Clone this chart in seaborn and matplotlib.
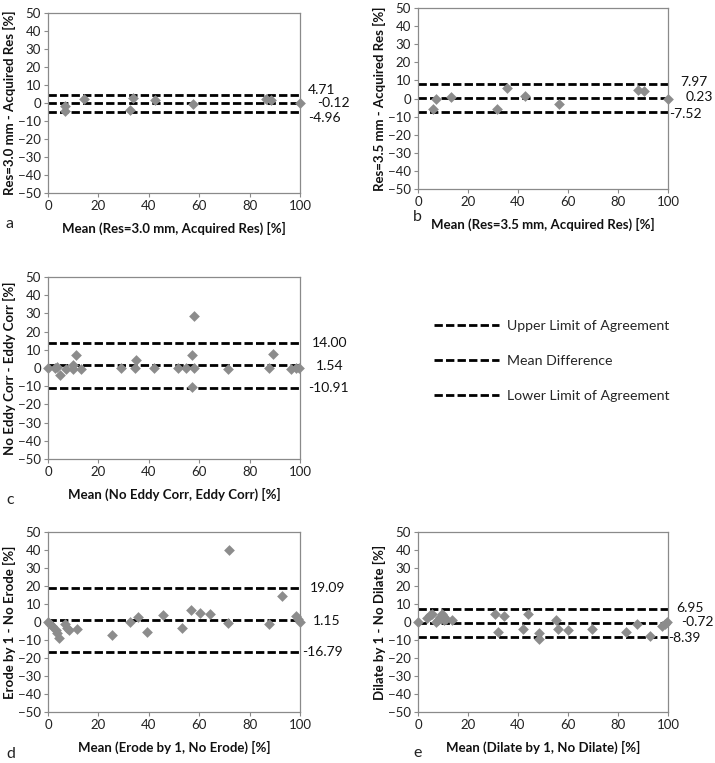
import matplotlib
matplotlib.use("Agg")
import matplotlib.pyplot as plt
import seaborn as sns
import pandas as pd

# ---------------- data ----------------
a_mean = [6.6, 6.6, 14.3, 32.5, 33.8, 42.4, 57.6, 86.4, 88.5, 100.0]
a_diff = [-1.5, -4.6, 2.4, -3.7, 2.6, 1.5, -0.4, 2.0, 1.8, 0.0]
a_limits = [4.71, -0.12, -4.96]

b_mean = [6.0, 7.3, 13.3, 31.5, 35.5, 42.8, 56.5, 87.8, 90.2, 100.0]
b_diff = [-5.6, -0.5, 0.7, -5.6, 5.6, 1.5, -3.3, 4.6, 4.1, 0.0]
b_limits = [7.97, 0.23, -7.52]

c_mean = [0.0, 2.8, 3.5, 4.9, 7.3, 10.0, 10.0, 11.0, 12.9, 29.1, 34.4, 35.1, 42.1,
          51.7, 54.6, 57.0, 57.0, 58.0, 58.0, 71.3, 87.8, 89.4, 96.5, 98.4, 99.5]
c_diff = [0.0, 0.0, 0.5, -4.0, -0.4, -0.4, 1.8, 7.3, -0.7, 0.0, 0.0, 4.6, 0.0,
          0.0, 0.0, 7.3, -10.4, 0.0, 28.8, -0.5, 0.0, 7.9, -0.3, 0.0, 0.0]
c_limits = [14.00, 1.54, -10.91]

d_mean = [0.0, 0.7, 1.7, 3.0, 3.6, 4.4, 6.7, 7.6, 8.4, 11.4, 25.3, 32.5, 35.6,
          39.2, 45.8, 53.1, 56.7, 60.4, 64.4, 71.5, 71.7, 87.5, 92.7, 98.4, 99.1, 100.0]
d_diff = [0.0, -1.3, -2.4, -4.6, -6.3, -9.0, -1.3, -3.1, -4.6, -3.7, -7.1, -0.2, 2.8,
          -5.4, 4.1, -3.1, 6.9, 5.0, 4.3, -0.3, 40.1, -1.3, 14.4, 3.2, 1.9, 0.0]
d_limits = [19.09, 1.15, -16.79]

e_mean = [0.0, 3.5, 4.7, 5.6, 7.3, 7.8, 8.6, 9.6, 10.0, 10.2, 11.3, 13.6, 30.9,
          31.8, 34.2, 41.9, 44.1, 48.5, 48.5, 55.2, 56.1, 60.1, 69.6, 83.1, 87.4,
          92.9, 97.7, 98.7, 99.6]
e_diff = [0.0, 2.4, 3.7, 4.3, 0.0, 1.3, 2.8, 4.7, 3.2, 1.3, 1.9, 0.9, 4.3,
          -5.6, 3.2, -4.1, 4.3, -6.3, -9.7, 1.3, -3.7, -4.3, -3.7, -5.6, -1.3,
          -7.5, -2.2, -1.3, -0.2]
e_limits = [6.95, -0.72, -8.39]

x_labels = ["Mean (Res=3.0 mm, Acquired Res) [%]",
            "Mean (Res=3.5 mm, Acquired Res) [%]",
            "Mean (No Eddy Corr, Eddy Corr) [%]",
            "Mean (Erode by 1, No Erode) [%]",
            "Mean (Dilate by 1, No Dilate) [%]"]
y_labels = ["Res=3.0 mm - Acquired Res [%]",
            "Res=3.5 mm - Acquired Res [%]",
            "No Eddy Corr - Eddy Corr [%]",
            "Erode by 1 - No Erode [%]",
            "Dilate by 1 - No Dilate [%]"]
panel_letters = ["a", "b", "c", "d", "e"]
legend_labels = ["Upper Limit of Agreement", "Mean Difference", "Lower Limit of Agreement"]
x_ticks = [0, 20, 40, 60, 80, 100]
y_ticks = [-50, -40, -30, -20, -10, 0, 10, 20, 30, 40, 50]

# ---------------- style ----------------
sns.set_theme(style="white")
plt.rcParams["font.family"] = ["Lato", "DejaVu Sans"]

W, H = 715, 763
fig = plt.figure(figsize=(W / 100, H / 100), dpi=100)

# axes boxes in pixels: left, top, right, bottom
boxes = [(48, 13, 300, 193), (418, 8, 668, 189), (48, 277, 300, 459),
         (48, 532, 300, 712), (418, 532, 668, 712)]
letter_pos = [(6, 224), (413, 217), (6, 500), (6, 754), (413, 753)]
# label x positions (data) and y offsets (data) for upper / mean / lower
label_x = [(103.2, 106.7, 103.2), (104.8, 107.0, 100.4), (104.6, 106.3, 103.2),
           (104.0, 105.0, 100.7), (103.2, 105.2, 100.0)]
label_dy = [(2.4, 0.0, -3.6), (1.0, 0.5, -0.9), (-0.5, -0.5, -0.3),
            (-0.4, -0.5, 0.0), (1.0, 0.9, -0.7)]

datasets = [(a_mean, a_diff, a_limits), (b_mean, b_diff, b_limits),
            (c_mean, c_diff, c_limits), (d_mean, d_diff, d_limits),
            (e_mean, e_diff, e_limits)]

frame_col = "#8a8a8a"
point_col = "#8c8c8c"
dash = (0, (3.0, 1.15))
legend_handles = None

for i, (mx, dy, lims) in enumerate(datasets):
    l, t, r, b = boxes[i]
    ax = fig.add_axes([l / W, 1 - b / H, (r - l) / W, (b - t) / H])
    df = pd.DataFrame({"mean": mx, "diff": dy})
    sns.scatterplot(data=df, x="mean", y="diff", ax=ax, marker="D", s=30,
                    color=point_col, linewidth=0, zorder=3, legend=False,
                    clip_on=False)
    handles = []
    for k, v in enumerate(lims):
        h = ax.axhline(v, color="black", lw=2.0, linestyle=dash, zorder=2)
        handles.append(h)
        ax.text(label_x[i][k], v + label_dy[i][k], f"{v:.2f}", ha="left", va="center",
                fontsize=10, color="#111111", clip_on=False)
    if legend_handles is None:
        legend_handles = handles
    ax.set_xlim(0, 100)
    ax.set_ylim(-50, 50)
    ax.set_xticks(x_ticks)
    ax.set_yticks(y_ticks)
    ax.tick_params(axis="both", labelsize=9.5, colors="#222222", length=3,
                   width=0.8, direction="out", pad=2, bottom=True, left=True)
    ax.tick_params(axis="both", color=frame_col)
    for s in ax.spines.values():
        s.set_color(frame_col)
        s.set_linewidth(0.9)
    ax.set_xlabel(x_labels[i], fontsize=9.5, fontweight="bold", color="#111111")
    ax.set_ylabel(y_labels[i], fontsize=9.5, fontweight="bold", color="#111111")
    ax.xaxis.set_label_coords(0.5, -29 / (b - t))
    ax.yaxis.set_label_coords(-32 / (r - l), 0.5)
    lx, ly = letter_pos[i]
    fig.text(lx / W, 1 - ly / H, panel_letters[i], fontsize=11.5, ha="left",
             va="center", color="#222222")

leg = fig.legend(legend_handles, legend_labels, loc="upper left",
                 bbox_to_anchor=(428 / W, 1 - 314 / H), frameon=False,
                 fontsize=10.2, handlelength=4.6, handletextpad=0.55,
                 labelspacing=1.65, borderaxespad=0)

fig.savefig("out.png", dpi=100)
